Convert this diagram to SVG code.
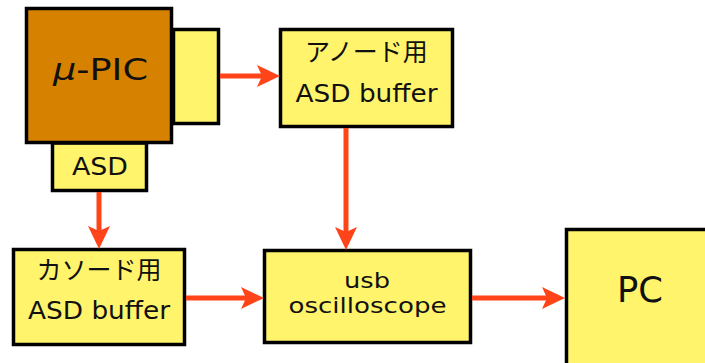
<svg xmlns="http://www.w3.org/2000/svg" width="705" height="363" viewBox="0 0 705 363">
<style>
.box{fill:#fff46b;stroke:#000;stroke-width:3.5}
.pic{fill:#d68200;stroke:#000;stroke-width:3.5}
.t{font-family:"DejaVu Sans","Noto Sans CJK JP",sans-serif;font-size:24px;fill:#111;text-anchor:middle}
.s{font-size:22px}
.j{font-family:"Noto Sans CJK JP",sans-serif;font-size:25px;fill:#111;text-anchor:middle}
.c{stroke:#ff4419;stroke-width:5;fill:none;marker-end:url(#ah)}
</style>
<defs>
<marker id="ah" markerUnits="userSpaceOnUse" viewBox="-6 -12 25 24" markerWidth="25" markerHeight="24" refX="0" refY="0" orient="auto">
<path d="M18,0 L-5,-11 L0,0 L-5,11 Z" fill="#ff4419"/>
</marker>
</defs>
<g id="upic">
<rect class="box" x="173.5" y="29.5" width="45" height="94"/>
<rect class="box" x="52.5" y="143" width="94" height="47.5"/>
<rect class="pic" x="26.5" y="8.5" width="145" height="134"/>
<text class="t" x="100.5" y="80" style="font-size:30px" textLength="95" lengthAdjust="spacingAndGlyphs"><tspan font-style="italic">μ</tspan>-PIC</text>
<text class="t" x="100" y="175" textLength="56" lengthAdjust="spacingAndGlyphs">ASD</text>
</g>
<g id="anode">
<rect class="box" x="280.5" y="29.5" width="172" height="97"/>
<text class="j" x="366.5" y="61">アノード用</text>
<text class="t" x="366.5" y="102" textLength="142" lengthAdjust="spacingAndGlyphs">ASD buffer</text>
</g>
<g id="cathode">
<rect class="box" x="13.5" y="249.5" width="171" height="95"/>
<text class="j" x="99" y="279">カソード用</text>
<text class="t" x="99" y="319" textLength="142" lengthAdjust="spacingAndGlyphs">ASD buffer</text>
</g>
<g id="usb">
<rect class="box" x="264.5" y="250.5" width="206" height="92"/>
<text class="t s" x="367" y="288" textLength="46" lengthAdjust="spacingAndGlyphs">usb</text>
<text class="t s" x="367.5" y="313" textLength="158" lengthAdjust="spacingAndGlyphs">oscilloscope</text>
</g>
<g id="pc">
<rect class="box" x="566.5" y="229.5" width="150" height="150"/>
<text class="t" x="640" y="302" style="font-size:36px" textLength="46" lengthAdjust="spacingAndGlyphs">PC</text>
</g>
<g id="connectors">
<line class="c" x1="220" y1="76" x2="262" y2="76"/>
<line class="c" x1="99" y1="192" x2="99" y2="231"/>
<line class="c" x1="346" y1="128" x2="346" y2="232"/>
<line class="c" x1="186" y1="298" x2="246" y2="298"/>
<line class="c" x1="472" y1="298" x2="547" y2="298"/>
</g>
</svg>
